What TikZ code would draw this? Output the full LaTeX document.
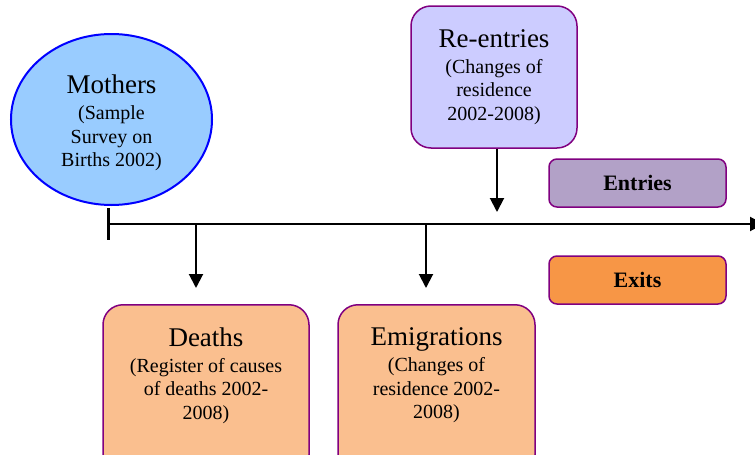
\documentclass[tikz,border=0pt]{standalone}
\usepackage{fontspec}
\setmainfont{Liberation Serif}
\usetikzlibrary{arrows.meta,shapes.geometric}
\definecolor{mumfill}{HTML}{99CCFF}
\definecolor{mumline}{HTML}{0000FF}
\definecolor{boxline}{HTML}{800080}
\definecolor{refill}{HTML}{CCCCFF}
\definecolor{entfill}{HTML}{B2A1C7}
\definecolor{exfill}{HTML}{F79646}
\definecolor{outfill}{HTML}{FABF8F}
\tikzset{
	bigbox/.style={draw=boxline,line width=1.5pt,rounded corners=20pt},
	smallbox/.style={draw=boxline,line width=1.5pt,rounded corners=8pt,minimum width=177pt,minimum height=48pt,font=\fontsize{22}{22}\selectfont\bfseries},
	txt/.style={align=center,font=\fontsize{20}{23.5}\selectfont},
	arr/.style={line width=2pt,-{Triangle[width=14pt,length=14pt]}}
}
\newcommand{\ttl}[1]{{\fontsize{27}{27}\selectfont #1}\\[2.5pt]}

\begin{document}
\begin{tikzpicture}[x=1pt,y=-1pt]
		\useasboundingbox (0,0) rectangle (755,455);
		\path
		(108,208) coordinate (T1)
		(108,240) coordinate (T2)
		(108,224) coordinate (O)
		(764,224) coordinate (E)
		(497,212) coordinate (R)
		(196,224) coordinate (D)
		(196,288) coordinate (D')
		(426,224) coordinate (M)
		(426,288) coordinate (M');
		% boxes
		\node[ellipse,draw=mumline,fill=mumfill,line width=2pt,minimum width=201pt,minimum height=171pt] (mothers) at (111.5,119.5) {};
		\node[txt] (mothers-txt) at (111.5,123) {\ttl{Mothers}(Sample\\Survey on\\Births 2002)};
		\node[bigbox,fill=refill,minimum width=166pt,minimum height=142pt,txt] (reentries) at (494,77) {\ttl{Re-entries}(Changes of\\residence\\2002-2008)};
		\node[smallbox,fill=entfill] (entries) at (637.5,183) {Entries};
		\node[smallbox,fill=exfill] (exits) at (637.5,280) {Exits};
		\node[bigbox,fill=outfill,minimum width=206pt,minimum height=170pt,anchor=north] (deaths) at (206,304) {};
		\node[txt] (deaths-txt) at (206,375.5) {\ttl{Deaths}(Register of causes\\of deaths 2002-\\2008)};
		\node[bigbox,fill=outfill,minimum width=197pt,minimum height=170pt,anchor=north] (emig) at (436.5,304) {};
		\node[txt] (emig-txt) at (436.5,375.5) {\ttl{Emigrations}(Changes of\\residence 2002-\\2008)};
		% time line
		\draw[line width=3pt] (T1)--(T2);
		\draw[arr] (O)--(E);
		\draw[arr] (reentries.south -| R)--(R);
		\foreach \a/\b in{D/D',M/M'}
		\draw[arr] (\a)--(\b);
		
	\end{tikzpicture}
\end{document}
